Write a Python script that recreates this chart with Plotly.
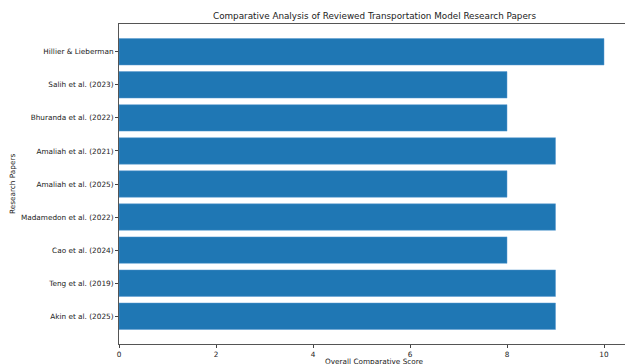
import plotly.graph_objects as go

papers = [
    "Akin et al. (2025)",
    "Teng et al. (2019)",
    "Cao et al. (2024)",
    "Madamedon et al. (2022)",
    "Amaliah et al. (2025)",
    "Amaliah et al. (2021)",
    "Bhuranda et al. (2022)",
    "Salih et al. (2023)",
    "Hillier & Lieberman",
]
scores = [9, 9, 8, 9, 8, 9, 8, 8, 10]
x_ticks = [0, 2, 4, 6, 8, 10]

FONT = "DejaVu Sans, Liberation Sans, sans-serif"

fig = go.Figure(go.Bar(
    x=scores, y=papers, orientation="h",
    marker=dict(color="#1f77b4", line=dict(color="#5a9bd0", width=0.5)),
))

plot_w = 625 - 119
plot_h = 364 - 24 - 20
def px_to_paper(px, py):
    return (px - 119) / plot_w, (364 - 20 - py) / plot_h

tx, ty = px_to_paper(374, 16)
yx, yy = px_to_paper(12, 184)
xx, xy = px_to_paper(374, 361)

fig.update_layout(
    width=625, height=364,
    margin=dict(l=119, r=0, t=24, b=20),
    paper_bgcolor="white", plot_bgcolor="white",
    bargap=0.2,
    showlegend=False,
    font=dict(family=FONT, size=7.3, color="#222"),
    annotations=[
        dict(text="Comparative Analysis of Reviewed Transportation Model Research Papers",
             x=tx, y=ty, xref="paper", yref="paper", xanchor="center", yanchor="middle",
             showarrow=False, font=dict(size=8.8, color="#222")),
        dict(text="Research Papers", textangle=-90, x=yx, y=yy, xref="paper", yref="paper",
             xanchor="center", yanchor="middle", showarrow=False,
             font=dict(size=7.3, color="#222")),
        dict(text="Overall Comparative Score", x=xx, y=xy, xref="paper", yref="paper",
             xanchor="center", yanchor="middle", showarrow=False,
             font=dict(size=7.3, color="#222")),
    ],
)

fig.update_xaxes(
    range=[0, plot_w / 48.5],
    tickvals=x_ticks, ticktext=[str(v) for v in x_ticks],
    ticks="outside", ticklen=3, tickcolor="#444", tickwidth=1,
    showline=True, linecolor="#555", linewidth=1, mirror=True,
    showgrid=False, zeroline=False,
)
fig.update_yaxes(
    range=[-0.84, 8.84],
    ticks="outside", ticklen=3, tickcolor="#444", tickwidth=1,
    showline=True, linecolor="#555", linewidth=1, mirror=False,
    showgrid=False, zeroline=False,
)

fig.write_html("out.html")
